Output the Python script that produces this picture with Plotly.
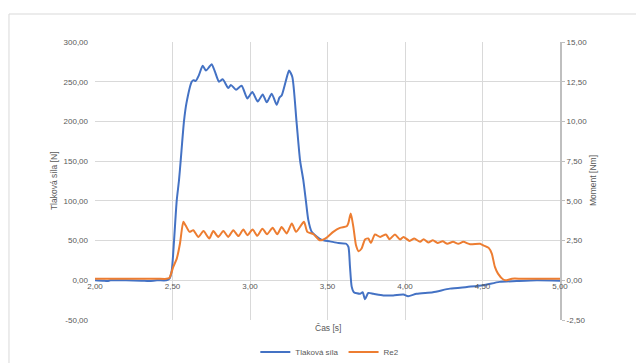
import plotly.graph_objects as go

# Time axis [s] and measured force [N]
cas_sila = [2.00, 2.05, 2.08, 2.10, 2.20, 2.30, 2.35, 2.40, 2.46, 2.48, 2.495, 2.51, 2.527,
            2.542, 2.553, 2.574, 2.59, 2.624, 2.635, 2.65, 2.67, 2.695, 2.716, 2.735, 2.753,
            2.775, 2.80, 2.824, 2.86, 2.877, 2.91, 2.946, 2.983, 3.015, 3.05, 3.082, 3.108,
            3.14, 3.172, 3.19, 3.205, 3.23, 3.252, 3.273, 3.30, 3.323, 3.344, 3.36, 3.376,
            3.398, 3.43, 3.46, 3.516, 3.57, 3.62, 3.635, 3.645, 3.656, 3.67, 3.71, 3.727,
            3.742, 3.763, 3.796, 3.86, 3.924, 3.99, 4.02, 4.075, 4.18, 4.29, 4.40, 4.505,
            4.61, 4.72, 4.85, 5.00]
tlakova_sila = [0, -0.5, -1, 0, 0, -0.5, -1, 0, 0, 2, 12, 50, 100,
                126, 151, 200, 223, 250, 252, 251, 258, 270, 264, 268, 272,
                262, 250, 253, 242, 246, 240, 245, 229, 237, 225, 234, 224,
                235, 221, 230, 233, 250, 264, 256, 200, 151, 126, 101, 76,
                61, 55, 51, 49, 47, 46, 42, 17, -8, -15, -17, -15,
                -24, -16, -17, -19, -19, -18, -20, -17, -15, -10.5, -8.4, -6.3,
                -2, -1, 0, -0.5]

# Time axis [s] and torque Re2 [Nm]
cas_re2 = [2.00, 2.10, 2.20, 2.30, 2.40, 2.46, 2.48, 2.505, 2.527, 2.548, 2.57, 2.585,
           2.61, 2.634, 2.667, 2.70, 2.737, 2.763, 2.795, 2.828, 2.86, 2.892, 2.925,
           2.957, 2.983, 3.017, 3.047, 3.08, 3.11, 3.146, 3.176, 3.204, 3.237, 3.27,
           3.297, 3.348, 3.37, 3.41, 3.45, 3.495, 3.537, 3.58, 3.624, 3.634, 3.65,
           3.667, 3.684, 3.70, 3.72, 3.742, 3.763, 3.78, 3.806, 3.84, 3.877, 3.90,
           3.935, 3.968, 3.99, 4.03, 4.06, 4.097, 4.12, 4.15, 4.18, 4.21, 4.243,
           4.273, 4.31, 4.344, 4.376, 4.42, 4.484, 4.505, 4.54, 4.56, 4.58, 4.60,
           4.634, 4.656, 4.69, 4.75, 4.85, 5.00]
re2 = [0.10, 0.10, 0.09, 0.10, 0.10, 0.09, 0.15, 0.85, 1.35, 2.30, 3.68, 3.45,
       3.05, 3.15, 2.73, 3.10, 2.63, 3.10, 2.73, 3.10, 2.73, 3.15, 2.78,
       3.20, 2.84, 3.20, 2.80, 3.25, 2.90, 3.30, 2.90, 3.35, 2.95, 3.58,
       3.05, 3.68, 3.05, 2.90, 2.52, 2.69, 3.05, 3.30, 3.40, 3.58, 4.20,
       3.35, 2.20, 1.83, 2.00, 2.57, 2.63, 2.35, 2.88, 2.73, 2.88, 2.59,
       2.88, 2.57, 2.73, 2.48, 2.63, 2.42, 2.59, 2.38, 2.52, 2.35, 2.45,
       2.30, 2.42, 2.30, 2.42, 2.27, 2.30, 2.20, 2.04, 1.68, 0.84, 0.42,
       0.05, 0.00, 0.10, 0.10, 0.10, 0.10]

# Axis ticks
x_ticks = [2.0, 2.5, 3.0, 3.5, 4.0, 4.5, 5.0]
x_tick_text = ["2,00", "2,50", "3,00", "3,50", "4,00", "4,50", "5,00"]
y_ticks = [-50, 0, 50, 100, 150, 200, 250, 300]
y_tick_text = ["-50,00", "0,00", "50,00", "100,00", "150,00", "200,00", "250,00", "300,00"]
y2_ticks = [-2.5, 0, 2.5, 5, 7.5, 10, 12.5, 15]
y2_tick_text = ["-2,50", "0,00", "2,50", "5,00", "7,50", "10,00", "12,50", "15,00"]

Y_RANGE = [-50, 300]
Y2_RANGE = [-2.5, 15]

FONT = "Liberation Sans"
TEXT_COLOR = "#595959"
TICK_FONT = dict(family=FONT, size=8, color=TEXT_COLOR)
TITLE_FONT = dict(family=FONT, size=8.5, color=TEXT_COLOR)
GRID = "#d9d9d9"

fig = go.Figure()
fig.add_trace(go.Scatter(
    x=cas_sila, y=tlakova_sila, name="Tlaková síla", mode="lines",
    line=dict(color="#4472C4", width=2, shape="spline", smoothing=0.6),
))
fig.add_trace(go.Scatter(
    x=cas_re2, y=re2, name="Re2", mode="lines", yaxis="y2",
    line=dict(color="#ED7D31", width=2, shape="spline", smoothing=0.6),
))

# x tick labels sit on the zero line of the force axis
zero_pos = (0 - Y_RANGE[0]) / (Y_RANGE[1] - Y_RANGE[0])

fig.update_layout(
    width=636, height=363,
    margin=dict(l=95, r=76, t=42, b=43, autoexpand=False),
    paper_bgcolor="white", plot_bgcolor="white",
    font=dict(family=FONT, size=8.5, color=TEXT_COLOR),
    xaxis=dict(
        range=[2, 5], tickvals=x_ticks, ticktext=x_tick_text,
        showgrid=True, gridcolor=GRID, gridwidth=1, zeroline=False,
        showline=False, ticks="", tickfont=TICK_FONT,
        anchor="free", position=zero_pos, automargin=False,
    ),
    yaxis=dict(
        range=Y_RANGE, tickvals=y_ticks, ticktext=y_tick_text,
        showgrid=True, gridcolor=GRID, gridwidth=1, zeroline=False,
        showline=False, ticks="", tickfont=TICK_FONT, ticklabelstandoff=6,
        automargin=False,
    ),
    yaxis2=dict(
        range=Y2_RANGE, tickvals=y2_ticks, ticktext=y2_tick_text,
        overlaying="y", side="right", showgrid=False, zeroline=False,
        showline=True, linecolor="#bfbfbf", linewidth=2, automargin=False,
        ticks="outside", ticklen=3, tickcolor="#bfbfbf", tickfont=TICK_FONT,
    ),
    legend=dict(
        orientation="h", x=0.505, y=-0.115, xanchor="center", yanchor="middle",
        font=dict(family=FONT, size=8, color=TEXT_COLOR),
        itemwidth=30, bgcolor="rgba(0,0,0,0)",
    ),
    showlegend=True,
    annotations=[
        dict(text="Čas [s]", xref="paper", yref="paper", x=0.5, y=-0.03,
             xanchor="center", yanchor="middle", showarrow=False, font=TITLE_FONT),
        dict(text="Tlaková síla [N]", xref="paper", yref="paper", x=-0.088, y=0.5,
             xanchor="center", yanchor="middle", textangle=-90, showarrow=False,
             font=TITLE_FONT),
        dict(text="Moment [Nm]", xref="paper", yref="paper", x=1.071, y=0.5,
             xanchor="center", yanchor="middle", textangle=-90, showarrow=False,
             font=TITLE_FONT),
    ],
    shapes=[dict(
        type="rect", xref="paper", yref="paper",
        x0=-0.185, x1=1.4, y0=-0.4, y1=1.1007,
        line=dict(color="#d9d9d9", width=1), fillcolor="rgba(0,0,0,0)", layer="below",
    )],
)

fig.write_html("out.html")
